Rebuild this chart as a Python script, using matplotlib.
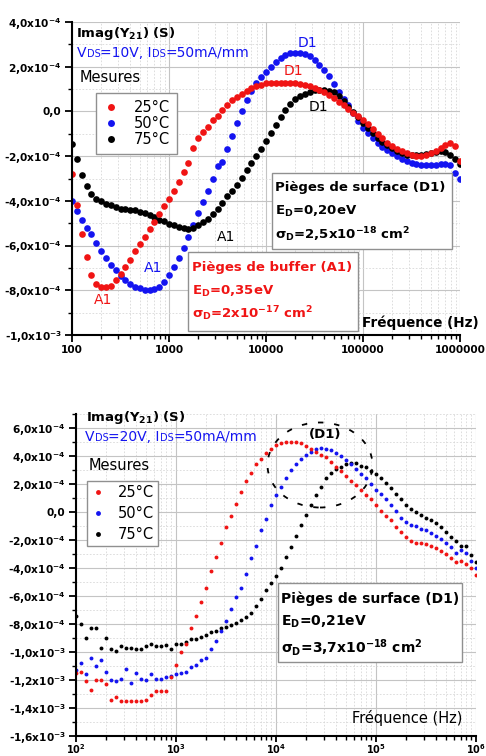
import numpy as np
import matplotlib
matplotlib.use("Agg")
import matplotlib.pyplot as plt
from matplotlib.patches import Rectangle, Ellipse
from matplotlib.lines import Line2D
from matplotlib.offsetbox import TextArea, HPacker, AnnotationBbox
from matplotlib.ticker import LogLocator, NullFormatter, MultipleLocator

plt.rcParams['font.family'] = ['DejaVu Sans']
plt.rcParams['mathtext.fontset'] = 'dejavusans'

# ---- data ----
# frequency sweep, 20 points per decade from 100 Hz to 1 MHz
freq = np.logspace(2, 6, 81)

# top chart: VDS=10V, Imag(Y21) in units of 1e-4 S
top_25 = [-2.8, -4.2, -5.5, -6.5, -7.3, -7.7, -7.85, -7.87, -7.8, -7.55,
          -7.25, -6.95, -6.65, -6.25, -5.95, -5.6, -5.25, -4.95, -4.6, -4.25,
          -3.9, -3.55, -3.15, -2.7, -2.3, -1.65, -1.2, -0.9, -0.7, -0.4,
          -0.2, 0.05, 0.3, 0.5, 0.65, 0.8, 0.92, 1.05, 1.13, 1.2,
          1.25, 1.27, 1.29, 1.29, 1.29, 1.28, 1.26, 1.22, 1.18, 1.12,
          1.05, 0.96, 0.86, 0.74, 0.6, 0.44, 0.28, 0.1, -0.05, -0.22,
          -0.4, -0.58, -0.78, -1.0, -1.2, -1.4, -1.55, -1.66, -1.76, -1.86,
          -1.94, -1.99, -2.0, -1.97, -1.88, -1.76, -1.62, -1.48, -1.43, -1.55, -2.2]
top_50 = [-4.0, -4.45, -4.85, -5.2, -5.5, -5.9, -6.25, -6.55, -6.85, -7.1,
          -7.35, -7.55, -7.7, -7.85, -7.92, -7.97, -7.98, -7.94, -7.85, -7.65,
          -7.3, -6.95, -6.55, -6.1, -5.6, -5.1, -4.55, -4.05, -3.55, -3.0,
          -2.45, -2.25, -1.7, -1.1, -0.5, 0.0, 0.5, 0.9, 1.25, 1.55,
          1.78, 2.0, 2.2, 2.38, 2.52, 2.6, 2.63, 2.62, 2.59, 2.48,
          2.32, 2.08, 1.85, 1.58, 1.22, 0.88, 0.56, 0.27, -0.08, -0.42,
          -0.73, -0.97, -1.2, -1.4, -1.58, -1.73, -1.88, -2.0, -2.13, -2.22,
          -2.3, -2.35, -2.38, -2.4, -2.41, -2.39, -2.35, -2.33, -2.4, -2.75, -3.0]
top_75 = [-1.45, -2.15, -2.85, -3.35, -3.7, -3.9, -4.02, -4.12, -4.2, -4.28,
          -4.35, -4.38, -4.4, -4.43, -4.48, -4.53, -4.62, -4.72, -4.85, -4.92,
          -5.02, -5.1, -5.17, -5.22, -5.25, -5.22, -5.1, -4.95, -4.8, -4.6,
          -4.35, -4.1, -3.8, -3.55, -3.3, -2.97, -2.62, -2.3, -2.0, -1.68,
          -1.32, -0.98, -0.6, -0.25, 0.08, 0.35, 0.55, 0.7, 0.8, 0.88,
          0.94, 0.97, 0.97, 0.93, 0.85, 0.68, 0.45, 0.22, -0.02, -0.27,
          -0.52, -0.76, -0.98, -1.18, -1.35, -1.52, -1.65, -1.78, -1.87, -1.93,
          -1.95, -1.96, -1.95, -1.92, -1.88, -1.83, -1.78, -1.82, -1.95, -2.15, -2.35]

# bottom chart: VDS=20V, Imag(Y21) in units of 1e-3 S
bot_25 = [-1.15, -1.14, -1.21, -1.27, -1.20, -1.20, -1.23, -1.34, -1.32, -1.35,
          -1.35, -1.35, -1.35, -1.35, -1.34, -1.31, -1.28, -1.28, -1.28, -1.18,
          -1.09, -1.00, -0.94, -0.83, -0.74, -0.64, -0.54, -0.42, -0.32, -0.22,
          -0.11, -0.03, 0.06, 0.14, 0.22, 0.28, 0.34, 0.38, 0.42, 0.45,
          0.48, 0.49, 0.50, 0.50, 0.50, 0.49, 0.47, 0.45, 0.43, 0.41,
          0.39, 0.36, 0.32, 0.29, 0.26, 0.22, 0.19, 0.16, 0.12, 0.09,
          0.05, 0.01, -0.03, -0.06, -0.11, -0.14, -0.18, -0.21, -0.22, -0.22,
          -0.23, -0.24, -0.26, -0.28, -0.30, -0.33, -0.36, -0.35, -0.37, -0.40, -0.45]
bot_50 = [-1.13, -1.08, -1.16, -1.04, -1.10, -1.06, -1.14, -1.20, -1.21, -1.19,
          -1.12, -1.22, -1.15, -1.19, -1.20, -1.16, -1.19, -1.19, -1.18, -1.17,
          -1.16, -1.15, -1.14, -1.11, -1.09, -1.06, -1.04, -0.98, -0.92, -0.85,
          -0.78, -0.69, -0.61, -0.54, -0.44, -0.33, -0.24, -0.13, -0.05, 0.05,
          0.12, 0.18, 0.24, 0.30, 0.34, 0.38, 0.41, 0.43, 0.45, 0.46,
          0.45, 0.44, 0.42, 0.40, 0.37, 0.34, 0.31, 0.27, 0.24, 0.20,
          0.16, 0.13, 0.09, 0.05, 0.01, -0.04, -0.07, -0.09, -0.10, -0.12,
          -0.13, -0.15, -0.17, -0.19, -0.22, -0.25, -0.29, -0.27, -0.29, -0.35, -0.40]
bot_75 = [-0.74, -0.80, -0.90, -0.83, -0.83, -0.97, -0.90, -0.98, -0.99, -0.96,
          -0.97, -0.97, -0.98, -0.98, -0.96, -0.94, -0.96, -0.96, -0.95, -0.98,
          -0.94, -0.94, -0.93, -0.91, -0.91, -0.89, -0.88, -0.86, -0.85, -0.83,
          -0.82, -0.81, -0.79, -0.77, -0.75, -0.72, -0.67, -0.62, -0.56, -0.51,
          -0.46, -0.40, -0.32, -0.25, -0.17, -0.09, -0.02, 0.05, 0.12, 0.18,
          0.24, 0.28, 0.31, 0.32, 0.34, 0.35, 0.35, 0.33, 0.32, 0.29,
          0.27, 0.24, 0.21, 0.17, 0.13, 0.09, 0.05, 0.02, 0.00, -0.02,
          -0.04, -0.06, -0.08, -0.11, -0.14, -0.18, -0.21, -0.24, -0.24, -0.31, -0.36]

temps = ["25°C", "50°C", "75°C"]
colors = ["#f01414", "#1414f0", "black"]

top_yticks = [-10e-4, -8e-4, -6e-4, -4e-4, -2e-4, 0.0, 2e-4, 4e-4]
top_ylabels = ["-1,0x10$^{\\mathbf{-3}}$", "-8,0x10$^{\\mathbf{-4}}$", "-6,0x10$^{\\mathbf{-4}}$",
               "-4,0x10$^{\\mathbf{-4}}$", "-2,0x10$^{\\mathbf{-4}}$", "0,0",
               "2,0x10$^{\\mathbf{-4}}$", "4,0x10$^{\\mathbf{-4}}$"]
top_xticks = [1e2, 1e3, 1e4, 1e5, 1e6]
top_xlabels = ["100", "1000", "10000", "100000", "1000000"]

bot_yticks = [-16e-4, -14e-4, -12e-4, -10e-4, -8e-4, -6e-4, -4e-4, -2e-4, 0.0, 2e-4, 4e-4, 6e-4]
bot_ylabels = ["-1,6x10$^{\\mathbf{-3}}$", "-1,4x10$^{\\mathbf{-3}}$", "-1,2x10$^{\\mathbf{-3}}$",
               "-1,0x10$^{\\mathbf{-3}}$", "-8,0x10$^{\\mathbf{-4}}$", "-6,0x10$^{\\mathbf{-4}}$",
               "-4,0x10$^{\\mathbf{-4}}$", "-2,0x10$^{\\mathbf{-4}}$", "0,0",
               "2,0x10$^{\\mathbf{-4}}$", "4,0x10$^{\\mathbf{-4}}$", "6,0x10$^{\\mathbf{-4}}$"]
bot_xticks = [1e2, 1e3, 1e4, 1e5, 1e6]
bot_xlabels = ["$\\mathbf{10^{2}}$", "$\\mathbf{10^{3}}$", "$\\mathbf{10^{4}}$",
               "$\\mathbf{10^{5}}$", "$\\mathbf{10^{6}}$"]

W, H = 486, 756


def fx(x):
    return x / W


def fy(y):
    return 1 - y / H


fig = plt.figure(figsize=(W / 100, H / 100), dpi=100)
ax1 = fig.add_axes([fx(72), fy(335), (460 - 72) / W, (335 - 22) / H])
ax2 = fig.add_axes([fx(76), fy(736), (476 - 76) / W, (736 - 414) / H])


def style_axes(ax, ylim, yticks, ylabels, xticks, xlabels, xsize=7.6):
    ax.set_xscale('log')
    ax.set_xlim(1e2, 1e6)
    ax.set_ylim(*ylim)
    for s in ['top', 'right']:
        ax.spines[s].set_visible(False)
    for s in ['left', 'bottom']:
        ax.spines[s].set_linewidth(1.5)
    ax.set_yticks(yticks, labels=ylabels, fontweight='bold', fontsize=7.6)
    ax.set_xticks(xticks, labels=xlabels, fontweight='bold', fontsize=xsize)
    ax.yaxis.set_minor_locator(MultipleLocator(1e-4))
    ax.xaxis.set_minor_locator(LogLocator(base=10, subs=range(2, 10)))
    ax.xaxis.set_minor_formatter(NullFormatter())
    ax.grid(which='major', color='#c4c4c4', lw=0.8)
    ax.grid(which='minor', color='#d8d8d8', lw=0.6, ls=(0, (2, 2)))
    ax.set_axisbelow(True)
    ax.tick_params(which='major', direction='out', length=5, width=1.3, pad=2.5)
    ax.tick_params(which='minor', direction='out', length=3, width=1)


style_axes(ax1, (-1e-3, 4e-4), top_yticks, top_ylabels, top_xticks, top_xlabels)
style_axes(ax2, (-1.6e-3, 7e-4), bot_yticks, bot_ylabels, bot_xticks, bot_xlabels, xsize=7.0)
ax2.tick_params(axis='x', which='major', length=4, pad=0.5)

# curves
for vals, c in [(top_50, colors[1]), (top_75, colors[2]), (top_25, colors[0])]:
    ax1.plot(freq, np.array(vals) * 1e-4, 'o', ms=4.8, color=c, mec='none')
for vals, c in [(bot_75, colors[2]), (bot_50, colors[1]), (bot_25, colors[0])]:
    ax2.plot(freq, np.array(vals) * 1e-3, 'o', ms=2.8, color=c, mec='none')

# legends
h1 = [Line2D([], [], marker='o', ls='none', color=c, mec='none', ms=5) for c in colors]
leg1 = ax1.legend(h1, temps, loc='upper left', bbox_to_anchor=((96 - 72) / 388, 1 - (93 - 22) / 313),
                  borderaxespad=0, fontsize=10.5, handlelength=1.0, handletextpad=1.1,
                  labelspacing=0.05, borderpad=0.5, fancybox=False, framealpha=1,
                  edgecolor='#909090')
leg1.get_frame().set_linewidth(1.0)
h2 = [Line2D([], [], marker='o', ls='none', color=c, mec='none', ms=3.5) for c in colors]
leg2 = ax2.legend(h2, temps, loc='upper left', bbox_to_anchor=((87 - 76) / 400, 1 - (481 - 414) / 322),
                  borderaxespad=0, fontsize=10.5, handlelength=0.9, handletextpad=0.9,
                  labelspacing=0.4, borderpad=0.3, fancybox=False, framealpha=1,
                  edgecolor='#909090')
leg2.get_frame().set_linewidth(1.0)


def bias_text(x, y, vds):
    parts = [("V", 10), ("DS", 7), ("=%sV, I" % vds, 10), ("DS", 7), ("=50mA/mm", 10)]
    boxes = [TextArea(t, textprops=dict(color='#1414f0', fontsize=s)) for t, s in parts]
    pack = HPacker(children=boxes, align='baseline', pad=0, sep=0)
    ab = AnnotationBbox(pack, (fx(x), fy(y)), xycoords='figure fraction',
                        box_alignment=(0, 0.5), frameon=False, pad=0)
    fig.add_artist(ab)


# ---- top chart texts ----
fig.text(fx(76), fy(33), "Imag(Y$_{\\mathbf{21}}$) (S)", fontsize=9.5, fontweight='bold', va='center')
bias_text(77, 53, "10")
fig.text(fx(80), fy(77), "Mesures", fontsize=10.5, va='center')

ax1.text(26500, 3.08e-4, "D1", color=colors[1], fontsize=10, ha='center', va='center')
ax1.text(18970, 1.79e-4, "D1", color=colors[0], fontsize=10, ha='center', va='center')
ax1.text(34400, 0.18e-4, "D1", color=colors[2], fontsize=10, ha='center', va='center')
ax1.text(3870, -5.63e-4, "A1", color=colors[2], fontsize=10, ha='center', va='center')
ax1.text(684, -7.0e-4, "A1", color=colors[1], fontsize=10, ha='center', va='center')
ax1.text(209, -8.44e-4, "A1", color=colors[0], fontsize=10, ha='center', va='center')

fig.add_artist(Rectangle((fx(272), fy(249)), (452 - 272) / W, (249 - 173) / H,
                         transform=fig.transFigure, fc='white', ec='#909090', lw=1))
fig.text(fx(275), fy(188), "Pièges de surface (D1)", fontsize=9.5, fontweight='bold', va='center')
fig.text(fx(275), fy(211), "E$_{\\mathbf{D}}$=0,20eV", fontsize=9.5, fontweight='bold', va='center')
fig.text(fx(275), fy(235), "σ$_{\\mathbf{D}}$=2,5x10$^{\\mathbf{-18}}$ cm$^{\\mathbf{2}}$",
         fontsize=9.5, fontweight='bold', va='center')

fig.add_artist(Rectangle((fx(188), fy(331)), (358 - 188) / W, (331 - 252) / H,
                         transform=fig.transFigure, fc='white', ec='#909090', lw=1))
fig.text(fx(192), fy(268), "Pièges de buffer (A1)", fontsize=9.5, fontweight='bold',
         color=colors[0], va='center')
fig.text(fx(192), fy(291), "E$_{\\mathbf{D}}$=0,35eV", fontsize=9.5, fontweight='bold',
         color=colors[0], va='center')
fig.text(fx(192), fy(314), "σ$_{\\mathbf{D}}$=2x10$^{\\mathbf{-17}}$ cm$^{\\mathbf{2}}$",
         fontsize=9.5, fontweight='bold', color=colors[0], va='center')

fig.text(fx(362), fy(323), "Fréquence (Hz)", fontsize=9.8, fontweight='bold', va='center')

# ---- bottom chart texts ----
fig.text(fx(86), fy(417), "Imag(Y$_{\\mathbf{21}}$) (S)", fontsize=9.5, fontweight='bold', va='center')
bias_text(85, 437, "20")
fig.text(fx(89), fy(466), "Mesures", fontsize=10.5, va='center')

ax2.add_patch(Ellipse(((320 - 76) / 400, (736 - 465) / 322), 105 / 400, 85 / 322,
                      transform=ax2.transAxes, fill=False, ec='black', lw=1.3,
                      ls=(0, (3, 6))))
fig.text(fx(325), fy(435), "(D1)", fontsize=9.5, fontweight='bold', ha='center', va='center')

fig.add_artist(Rectangle((fx(278), fy(662)), (462 - 278) / W, (662 - 583) / H,
                         transform=fig.transFigure, fc='white', ec='#909090', lw=1))
fig.text(fx(281), fy(599), "Pièges de surface (D1)", fontsize=10, fontweight='bold', va='center')
fig.text(fx(281), fy(622), "E$_{\\mathbf{D}}$=0,21eV", fontsize=10, fontweight='bold', va='center')
fig.text(fx(281), fy(647), "σ$_{\\mathbf{D}}$=3,7x10$^{\\mathbf{-18}}$ cm$^{\\mathbf{2}}$",
         fontsize=10, fontweight='bold', va='center')

fig.text(fx(352), fy(718), "Fréquence (Hz)", fontsize=10.5, va='center')

fig.savefig("out.png", dpi=100)
